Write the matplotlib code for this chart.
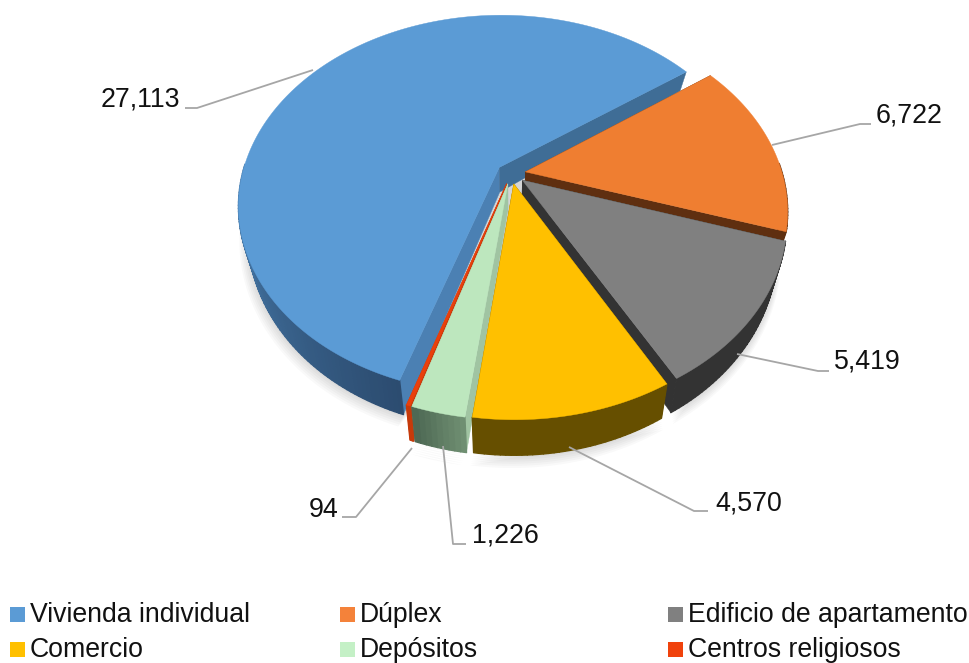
import numpy as np
import matplotlib
matplotlib.use("Agg")
import matplotlib.pyplot as plt
from matplotlib.collections import PolyCollection
from matplotlib.colors import to_rgb
from matplotlib.patches import Polygon, Rectangle

plt.rcParams['font.family'] = ['Liberation Sans', 'DejaVu Sans']

# data
categories = ['Vivienda individual', 'Dúplex', 'Edificio de apartamento',
              'Comercio', 'Depósitos', 'Centros religiosos']
values = [27113, 6722, 5419, 4570, 1226, 94]

# colours per slice
top_colors = ['#5b9bd5', '#ef7e31', '#808080', '#ffc000', '#bde7be', '#e9400c']
legend_colors = ['#5b9bd5', '#f4823a', '#808080', '#ffc000', '#c4f0c6', '#f0420c']
side_from = ['#4a7fb0', '#5f2f10', '#333333', '#664f00', '#6f8f72', '#c63a0a']
side_to = ['#2c4c70', '#5f2f10', '#333333', '#664f00', '#4a6450', '#c63a0a']
start_face = ['#4b80b3', '#5f2f10', '#333333', '#664f00', '#a0c4a2', '#c63a0a']
end_face = ['#3f6d96', '#5f2f10', '#333333', '#664f00', '#a0c4a2', '#c63a0a']

# label anchor text positions and leader lines (pixels)
label_pos = [(140.5, 100), (909.5, 116), (867, 362), (749, 503), (505, 535.5), (324, 510)]
leaders = [[(313, 70), (197, 108), (185, 108)],
           [(772, 145), (860, 124), (871, 124)],
           [(737, 354), (818, 371), (829, 371)],
           [(569, 447), (694, 511), (708, 511)],
           [(443, 446), (453, 544), (466, 544)],
           [(412, 448), (356, 517), (342, 517)]]

# projection settings
cx, cy = 511, 173.5
S, Sy, q = 257, 184.5, 0.198
first_angle = np.radians(198.0)
explode = 0.0566


def project(X, Y, bottom=False):
    w = 1 + q * Y
    x = S * X / w
    y = Sy * Y / w
    if bottom:
        x = x * 0.965
        y = y - (25 - 10 * Y)
    return np.column_stack((cx + x, cy - y))


fig = plt.figure(figsize=(9.69, 6.63), dpi=100)
ax = fig.add_axes([0, 0, 1, 1])
ax.set_xlim(0, 969)
ax.set_ylim(663, 0)
ax.axis('off')

fractions = np.array(values) / sum(values)
edges = first_angle + np.concatenate(([0], np.cumsum(fractions))) * 2 * np.pi


def slice_xy(i, r=1.0, n=None):
    t0, t1 = edges[i], edges[i + 1]
    mid = (t0 + t1) / 2
    n = n or max(4, int((t1 - t0) * 60))
    t = np.linspace(t0, t1, n)
    ox, oy = explode * np.sin(mid), explode * np.cos(mid)
    return t, ox + r * np.sin(t), oy + r * np.cos(t), ox, oy


# soft shadow under the pie
for k in range(7):
    for i in range(len(values)):
        t, X, Y, ox, oy = slice_xy(i, r=1 + 0.004 * k)
        arc = project(X, Y, bottom=True) + np.array([-k * 0.4, k * 0.9])
        ax.add_patch(Polygon(arc, closed=True, fc='k', ec='none', alpha=0.022, zorder=1))

# back to front
order = [0, 1, 2, 5, 4, 3]
z = 2
for i in order:
    t, X, Y, ox, oy = slice_xy(i)
    top = project(X, Y)
    bot = project(X, Y, bottom=True)
    apex_top = project(np.array([ox]), np.array([oy]))
    apex_bot = project(np.array([ox]), np.array([oy]), bottom=True)

    # cut faces
    for idx, col in ((0, start_face[i]), (-1, end_face[i])):
        quad = np.vstack((apex_top, top[idx], bot[idx], apex_bot))
        ax.add_patch(Polygon(quad, closed=True, fc=col, ec=col, lw=0.3, zorder=z))
    z += 1

    # outer wall in small facets, shaded along the arc, back part is hidden anyway
    c0, c1 = np.array(to_rgb(side_to[i])), np.array(to_rgb(side_from[i]))
    quads, cols = [], []
    for j in range(len(t) - 1):
        if Y[j] > 0.05 and Y[j + 1] > 0.05:
            continue
        quads.append([top[j], top[j + 1], bot[j + 1], bot[j]])
        if i == 0:
            f = np.clip((t[j] - edges[0]) / np.radians(70), 0, 1)
        else:
            f = 1 - j / (len(t) - 1)
        cols.append(c0 + (c1 - c0) * f)
    if quads:
        ax.add_collection(PolyCollection(quads, facecolors=cols, edgecolors=cols, linewidths=1.0, zorder=z))
    z += 1

    # top face
    ax.add_patch(Polygon(np.vstack((apex_top, top)), closed=True,
                         fc=top_colors[i], ec=top_colors[i], lw=0.3, zorder=z))
    z += 1

# data labels with leader lines
for v, pos, line in zip(values, label_pos, leaders):
    xs, ys = zip(*line)
    ax.plot(xs, ys, color='#a6a6a6', lw=1.3, solid_capstyle='butt', zorder=z)
    ax.text(pos[0], pos[1], f"{v:,}", fontsize=19.3, color='#111111', ha='center', va='center', zorder=z + 1)

# legend, second row sits a little higher so the descenders stay in the picture
col_x = [10, 340, 668]
row_y = [607, 642]
for i, name in enumerate(categories):
    x = col_x[i % 3]
    y = row_y[i // 3]
    ax.add_patch(Rectangle((x, y), 15, 15, fc=legend_colors[i], ec='none', zorder=z))
    ax.text(x + 20, y + 15, name, fontsize=19.2, color='#111111', ha='left', va='baseline', zorder=z)

plt.savefig('out.png', dpi=100)
